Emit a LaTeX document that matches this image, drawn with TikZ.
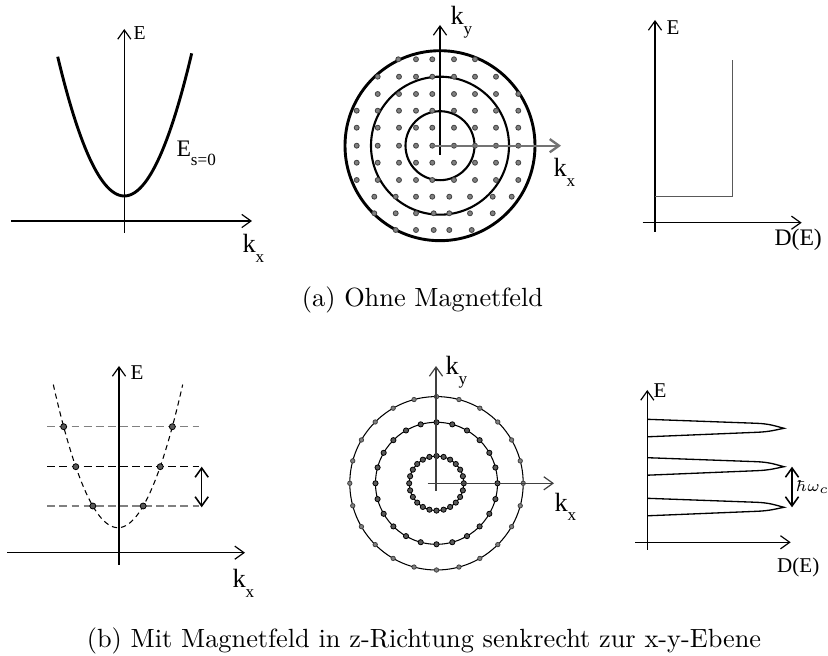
\documentclass[tikz,border=0pt]{standalone}
\usepackage{fontspec}
\newfontfamily\figfont{Liberation Serif}
\usetikzlibrary{arrows.meta}
\newcommand{\lowidx}[1]{\raisebox{-0.8ex}{\fontsize{6.5}{7}\selectfont #1}}

\begin{document}
\begin{tikzpicture}[x=0.38pt, y=-0.38pt, >={Straight Barb[length=3.5pt,width=5pt]},
	axis/.style={->, line width=0.45pt},
	elbl/.style={inner sep=0pt, anchor=base west, font=\figfont\fontsize{8}{10}\selectfont},
	klbl/.style={inner sep=0pt, anchor=base west, font=\figfont\fontsize{10}{12}\selectfont},
	kdot/.style={fill=gray, draw=black!75, line width=0.3pt},
	lldot/.style={fill=black!65, draw=black, line width=0.3pt},
	level/.style={dash pattern=on 3pt off 1.6pt, line width=0.45pt}]
	\useasboundingbox (0,0) rectangle (828,656);

	% ohne Feld: Dispersion
	\draw[axis] (11,221) -- (252,221);
	\draw[axis] (124.3,233) -- (124.3,29);
	\draw[line width=1.1pt] plot[domain=57.7:191.7, samples=60] (\x,{196-0.0314*(\x-124.3)*(\x-124.3)});
	\node[elbl, font=\figfont\fontsize{7.5}{9}\selectfont] (Ea) at (133,39.3) {E};
	\node[klbl] (kxa) at (242,253) {k\lowidx{x}};
	\node[klbl, font=\figfont\fontsize{9}{11}\selectfont] (Es) at (176,156.7) {E\lowidx{s=0}};

	% ohne Feld: k-Raum
	\draw[line width=1.1pt] (440,145.7) circle (95);
	\draw[line width=0.8pt] (440,145.7) circle (69) (440,145.7) circle (34.5);
	\foreach \y/\xs in {59.3/{398.3,416,432.3,454,475},
			76.7/{377.7,399,416,432.3,454,475,496},
			94/{377.7,399,416,432.3,454,475,496,518.3},
			110.7/{356.7,377.7,399,416,432.3,454,475,496,518.3},
			127.7/{356.7,377.7,399,416,432.3,454,475,496,518.3},
			145.7/{356.7,377.7,399,416,432.3,454,475,496,518.3},
			162.7/{356.7,377.7,399,416,432.3,454,475,496,518.3},
			180/{356.7,377.7,399,416,432.3,454,475,496,518.3},
			196.7/{374.3,395.7,416,432.3,449.3,470,492.7,511.7},
			213.3/{374.3,395.7,416,433.7,449.3,470,492.7},
			230/{395.7,416,433.7,449.3,471.7}}
		\foreach \x in \xs
			\filldraw[kdot] (\x,\y) circle (2.5);
	\draw[axis] (440,155) -- (440,25);
	\draw[axis, draw=black!55, line width=0.9pt] (432,145.7) -- (561,145.7);
	\node[klbl] (kya) at (450,25) {k\lowidx{y}};
	\node[klbl] (kxb) at (553,176.7) {k\lowidx{x}};

	% ohne Feld: Zustandsdichte
	\draw[axis] (642.7,222.7) -- (801.7,222.7);
	\draw[axis] (655,231.7) -- (655,20);
	\draw[black!65, line width=0.6pt] (655,196.7) -- (732.7,196.7) -- (732.7,60);
	\node[elbl] (Eb) at (666,35) {E};
	\node[elbl, font=\figfont\fontsize{9}{11}\selectfont] (DEa) at (774,246) {D(E)};

	\node[anchor=base] (capa) at (422.5,307) {(a) Ohne Magnetfeld};

	% mit Feld: Landau-Niveaus
	\draw[axis] (7.3,552.7) -- (245,552.7);
	\draw[axis] (119,565) -- (119,366);
	\draw[dash pattern=on 2pt off 1.5pt, line width=0.4pt] plot[domain=53.3:182.7, samples=60] (\x,{527.7-0.0342*(\x-118)*(\x-118)});
	\foreach \lev/\col in {426.7/gray, 466.7/black, 506/gray} {
		\draw[level, draw=\col] (47.3,\lev) -- (199.3,\lev);
		\pgfmathsetmacro\dx{sqrt((527.7-\lev)/0.0342)}
		\filldraw[lldot] (118+\dx,\lev) circle (3) (118-\dx,\lev) circle (3);
	}
	\draw[<->, line width=0.6pt] (201.7,466.7) -- (201.7,507.3);
	\node[elbl] (Ec) at (130,380) {E};
	\node[klbl] (kxc) at (232,588) {k\lowidx{x}};

	% mit Feld: Landau-Kreise
	\draw[line width=0.4pt] (436.5,483.3) circle (86.7) (436.5,483.3) circle (61) (436.5,483.3) circle (27.3);
	\foreach \r/\s/\st in {86.7/2.2/kdot, 61/2.6/lldot, 27.3/2.6/lldot}
		\foreach \a in {0,15,...,345}
			\filldraw[\st] (436.5,483.3) ++(90+\a:\r) circle (\s);
	\draw[axis, draw=black!75] (436,490.7) -- (436,366);
	\draw[axis, draw=black!75] (427.7,483.3) -- (554,483.3);
	\node[klbl] (kyb) at (445,375) {k\lowidx{y}};
	\node[klbl] (kxd) at (554,511) {k\lowidx{x}};

	% mit Feld: Zustandsdichte
	\draw[axis] (635,542.3) -- (790.7,542.3);
	\draw[axis] (647.3,550) -- (647.3,390);
	\foreach \t in {428.3,466.7,507.3}
		\draw[line width=0.5pt] (647.3,\t-9) -- (756.7,\t-5)
			.. controls (770,\t-4.5) and (776,\t-2) .. (784,\t)
			.. controls (776,\t+1.5) and (770,\t+3.5) .. (756.7,\t+4) -- (647.3,\t+8.5);
	\draw[<->, line width=0.6pt] (792,466.7) -- (792,507.3);
	\node[anchor=west, inner sep=0pt, font=\fontsize{6}{7}\selectfont] (hw) at (795.5,487) {$\hbar\omega_c$};
	\node[elbl] (Ed) at (653,398) {E};
	\node[elbl] (DEb) at (776.7,573) {D(E)};

	\node[anchor=base] (capb) at (424,647) {(b) Mit Magnetfeld in z-Richtung senkrecht zur x-y-Ebene};
\end{tikzpicture}
\end{document}
